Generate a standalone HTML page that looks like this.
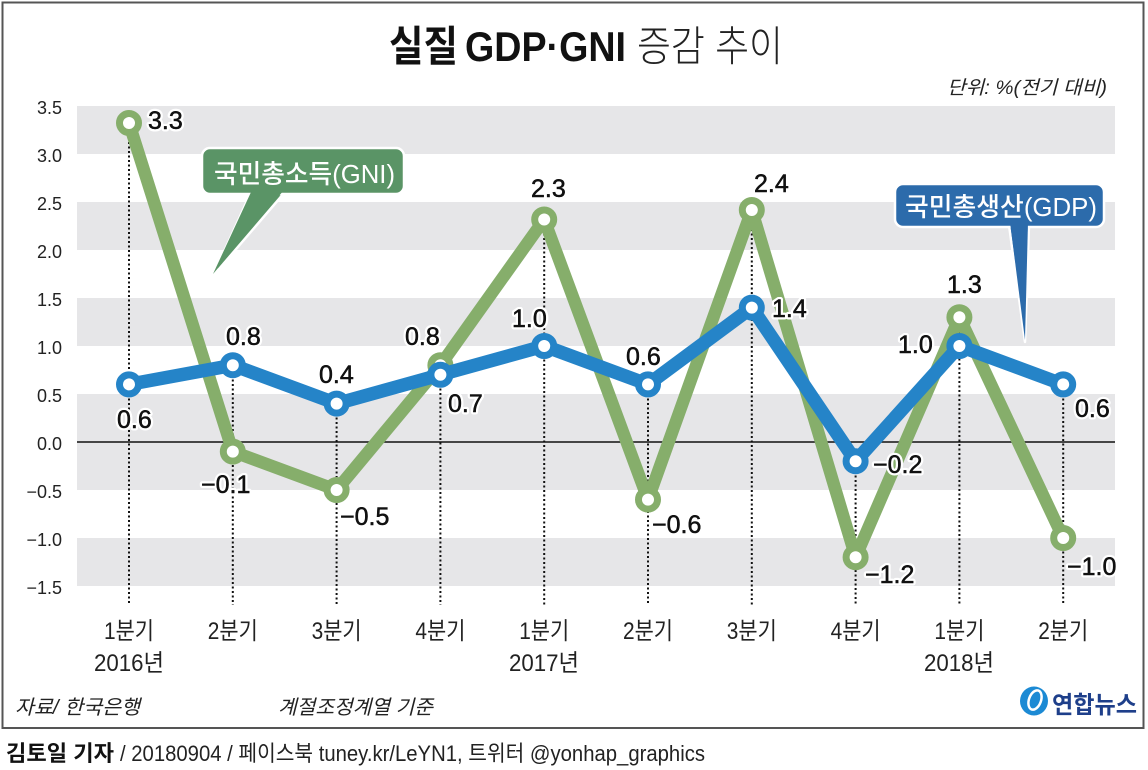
<!DOCTYPE html>
<html><head><meta charset="utf-8"><style>
html,body{margin:0;padding:0;background:#fff;}
svg{display:block;}
text{font-family:"Liberation Sans","Noto Sans CJK KR",sans-serif;}
.lbl{font-size:25px;fill:#111;stroke:#fff;stroke-width:5px;paint-order:stroke;stroke-linejoin:round;}
.lbl2{font-size:25px;fill:#111;stroke:#111;stroke-width:0.5px;}
.ax{font-size:18px;fill:#222;text-anchor:end;}
.xl{font-size:24px;fill:#222;}
</style></head><body>
<svg width="1148" height="770" viewBox="0 0 1148 770" xmlns="http://www.w3.org/2000/svg">
<rect x="0" y="0" width="1148" height="770" fill="#fff"/>
<rect x="2.5" y="2.5" width="1141" height="725.5" fill="none" stroke="#555" stroke-width="2"/>

<!-- title -->
<text x="389" y="61" font-size="42" font-weight="bold" textLength="69" lengthAdjust="spacingAndGlyphs" fill="#111">실질</text>
<text x="465" y="61" font-size="42" font-weight="bold" textLength="161" lengthAdjust="spacingAndGlyphs" fill="#111">GDP·GNI</text>
<text x="637" y="61" font-size="42" font-weight="300" textLength="146" lengthAdjust="spacingAndGlyphs" fill="#222">증감 추이</text>

<text x="947" y="94" font-size="19" font-style="italic" textLength="160" lengthAdjust="spacingAndGlyphs" fill="#222">단위: %(전기 대비)</text>

<!-- bands -->
<g fill="#e6e6e8">
<rect x="77" y="106" width="1038" height="48"/>
<rect x="77" y="202" width="1038" height="48"/>
<rect x="77" y="298" width="1038" height="48"/>
<rect x="77" y="394" width="1038" height="96"/>
<rect x="77" y="538" width="1038" height="48"/>
</g>
<line x1="77" y1="442" x2="1115" y2="442" stroke="#111" stroke-width="1.6"/>

<!-- y axis labels -->
<g class="ax">
<text x="62" y="114">3.5</text>
<text x="62" y="162">3.0</text>
<text x="62" y="210">2.5</text>
<text x="62" y="258">2.0</text>
<text x="62" y="306">1.5</text>
<text x="62" y="354">1.0</text>
<text x="62" y="402">0.5</text>
<text x="62" y="450">0.0</text>
<text x="62" y="498">−0.5</text>
<text x="62" y="546">−1.0</text>
<text x="62" y="594">−1.5</text>
</g>

<!-- dotted guides -->
<g stroke="#111" stroke-width="2" stroke-dasharray="2 2.5">
<line x1="129" y1="133" x2="129" y2="605"/>
<line x1="232.8" y1="375" x2="232.8" y2="605"/>
<line x1="336.6" y1="413" x2="336.6" y2="605"/>
<line x1="440.4" y1="375" x2="440.4" y2="605"/>
<line x1="544.2" y1="229" x2="544.2" y2="605"/>
<line x1="648" y1="394" x2="648" y2="605"/>
<line x1="751.8" y1="220" x2="751.8" y2="605"/>
<line x1="855.6" y1="471" x2="855.6" y2="605"/>
<line x1="959.4" y1="327" x2="959.4" y2="605"/>
<line x1="1063.2" y1="394" x2="1063.2" y2="605"/>
</g>

<!-- callout boxes -->
<g stroke="#fff" stroke-width="2.5" stroke-linejoin="round">
<path d="M251,192 L285,192 L213,276 Z" fill="#5a9466"/>
<rect x="202" y="148" width="202" height="46" rx="8" fill="#5a9466"/>
<path d="M1009,225 L1029,225 L1025,342 Z" fill="#2c6bab"/>
<rect x="895" y="184" width="209" height="43" rx="8" fill="#2c6bab"/>
</g>
<path d="M252,190 L284,190 L213,274 Z" fill="#5a9466"/>
<path d="M1010,222 L1028,222 L1025,340 Z" fill="#2c6bab"/>
<text x="214" y="183" font-size="26" font-weight="500" fill="#fff" textLength="181" lengthAdjust="spacingAndGlyphs">국민총소득(GNI)</text>
<text x="905" y="216" font-size="26" font-weight="500" fill="#fff" textLength="192" lengthAdjust="spacingAndGlyphs">국민총생산(GDP)</text>

<!-- GNI series -->
<polyline fill="none" stroke="#86ae6b" stroke-width="12.5" stroke-linejoin="round" stroke-linecap="round"
 points="129,123 232.8,451.6 336.6,490 440.4,365.2 544.2,219.5 648,499.6 751.8,210 855.6,557.2 959.4,317.2 1063.2,538"/>
<g fill="#fff" stroke="#86ae6b" stroke-width="7">
<circle cx="129" cy="123" r="9.5"/>
<circle cx="232.8" cy="451.6" r="9.5"/>
<circle cx="336.6" cy="490" r="9.5"/>
<circle cx="440.4" cy="365.2" r="9.5"/>
<circle cx="544.2" cy="219.5" r="9.5"/>
<circle cx="648" cy="499.6" r="9.5"/>
<circle cx="751.8" cy="210" r="9.5"/>
<circle cx="855.6" cy="557.2" r="9.5"/>
<circle cx="959.4" cy="317.2" r="9.5"/>
<circle cx="1063.2" cy="538" r="9.5"/>
</g>

<!-- GDP series -->
<polyline fill="none" stroke="#2584c8" stroke-width="13.5" stroke-linejoin="round" stroke-linecap="round"
 points="129,384.4 232.8,365.2 336.6,403.6 440.4,374.8 544.2,346 648,384.4 751.8,307.6 855.6,461.2 959.4,346 1063.2,384.4"/>
<g fill="#fff" stroke="#2584c8" stroke-width="7">
<circle cx="129" cy="384.4" r="9.5"/>
<circle cx="232.8" cy="365.2" r="9.5"/>
<circle cx="336.6" cy="403.6" r="9.5"/>
<circle cx="440.4" cy="374.8" r="9.5"/>
<circle cx="544.2" cy="346" r="9.5"/>
<circle cx="648" cy="384.4" r="9.5"/>
<circle cx="751.8" cy="307.6" r="9.5"/>
<circle cx="855.6" cy="461.2" r="9.5"/>
<circle cx="959.4" cy="346" r="9.5"/>
<circle cx="1063.2" cy="384.4" r="9.5"/>
</g>

<!-- data labels (halo layer) -->
<g class="lbl">
<text x="148" y="129">3.3</text>
<text x="226" y="345">0.8</text>
<text x="117" y="428">0.6</text>
<text x="201" y="493">−0.1</text>
<text x="319" y="383">0.4</text>
<text x="340" y="525">−0.5</text>
<text x="405" y="345">0.8</text>
<text x="448" y="412">0.7</text>
<text x="512" y="327">1.0</text>
<text x="531" y="197">2.3</text>
<text x="626" y="365">0.6</text>
<text x="652" y="533">−0.6</text>
<text x="772" y="317">1.4</text>
<text x="754" y="192">2.4</text>
<text x="873" y="473">−0.2</text>
<text x="865" y="583">−1.2</text>
<text x="947" y="293">1.3</text>
<text x="898" y="353">1.0</text>
<text x="1075" y="417">0.6</text>
<text x="1067" y="575">−1.0</text>
</g>
<!-- data labels (weight layer) -->
<g class="lbl2">
<text x="148" y="129">3.3</text>
<text x="226" y="345">0.8</text>
<text x="117" y="428">0.6</text>
<text x="201" y="493">−0.1</text>
<text x="319" y="383">0.4</text>
<text x="340" y="525">−0.5</text>
<text x="405" y="345">0.8</text>
<text x="448" y="412">0.7</text>
<text x="512" y="327">1.0</text>
<text x="531" y="197">2.3</text>
<text x="626" y="365">0.6</text>
<text x="652" y="533">−0.6</text>
<text x="772" y="317">1.4</text>
<text x="754" y="192">2.4</text>
<text x="873" y="473">−0.2</text>
<text x="865" y="583">−1.2</text>
<text x="947" y="293">1.3</text>
<text x="898" y="353">1.0</text>
<text x="1075" y="417">0.6</text>
<text x="1067" y="575">−1.0</text>
</g>

<!-- x labels -->
<g class="xl">
<text x="104" y="639" textLength="50" lengthAdjust="spacingAndGlyphs">1분기</text>
<text x="207.8" y="639" textLength="50" lengthAdjust="spacingAndGlyphs">2분기</text>
<text x="311.6" y="639" textLength="50" lengthAdjust="spacingAndGlyphs">3분기</text>
<text x="415.4" y="639" textLength="50" lengthAdjust="spacingAndGlyphs">4분기</text>
<text x="519.2" y="639" textLength="50" lengthAdjust="spacingAndGlyphs">1분기</text>
<text x="623" y="639" textLength="50" lengthAdjust="spacingAndGlyphs">2분기</text>
<text x="726.8" y="639" textLength="50" lengthAdjust="spacingAndGlyphs">3분기</text>
<text x="830.6" y="639" textLength="50" lengthAdjust="spacingAndGlyphs">4분기</text>
<text x="934.4" y="639" textLength="50" lengthAdjust="spacingAndGlyphs">1분기</text>
<text x="1038.2" y="639" textLength="50" lengthAdjust="spacingAndGlyphs">2분기</text>
<text x="94" y="671" textLength="70" lengthAdjust="spacingAndGlyphs">2016년</text>
<text x="509" y="671" textLength="70" lengthAdjust="spacingAndGlyphs">2017년</text>
<text x="924" y="671" textLength="70" lengthAdjust="spacingAndGlyphs">2018년</text>
</g>

<!-- source notes -->
<text x="15" y="714" font-size="20" font-style="italic" fill="#222" textLength="125" lengthAdjust="spacingAndGlyphs">자료/ 한국은행</text>
<text x="278" y="714" font-size="20" font-style="italic" fill="#222" textLength="155" lengthAdjust="spacingAndGlyphs">계절조정계열 기준</text>

<!-- logo -->
<ellipse cx="1034" cy="701" rx="14" ry="14.5" fill="#1c8ad4"/>
<ellipse cx="1035" cy="700" rx="6" ry="10" fill="none" stroke="#fff" stroke-width="2.5" transform="rotate(20 1035 700)"/>
<text x="1052" y="713" font-size="24" font-weight="bold" fill="#1e3f8a" textLength="85" lengthAdjust="spacingAndGlyphs">연합뉴스</text>

<!-- footer -->
<text x="6" y="761" font-size="22" font-weight="bold" fill="#111" textLength="108" lengthAdjust="spacingAndGlyphs">김토일 기자</text>
<text x="120" y="761" font-size="22" fill="#222" textLength="585" lengthAdjust="spacingAndGlyphs">/ 20180904 / 페이스북 tuney.kr/LeYN1, 트위터 @yonhap_graphics</text>
</svg>
</body></html>
